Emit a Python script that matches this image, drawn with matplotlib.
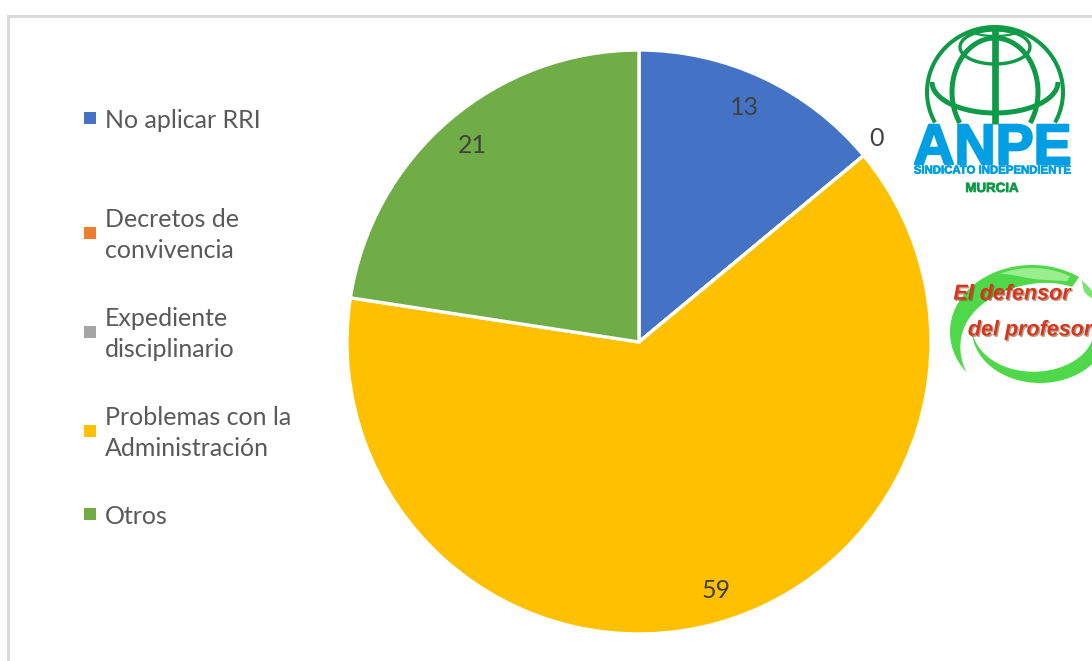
#!/usr/bin/env python3

import matplotlib
matplotlib.use('Agg')
import matplotlib.pyplot as plt
import matplotlib.patheffects as pe
from matplotlib.patches import Polygon, Rectangle
import numpy as np

W, H = 1092, 661

categories = ['No aplicar RRI', 'Decretos de\nconvivencia', 'Expediente\ndisciplinario',
              'Problemas con la\nAdministración', 'Otros']
values = [13, 0, 0, 59, 21]
shown_labels = ['13', '0', '', '59', '21']
colors = ['#4472C4', '#ED7D31', '#A5A5A5', '#FFC000', '#70AD47']
legend_y = [118, 233, 332, 431, 514]

# small label placement corrections, degrees
label_shift = [1.0, 1.2, 0, 1.9, -0.6]

fig = plt.figure(figsize=(W / 100, H / 100), dpi=100)

# overlay in pixel coordinates for frame, legend and logos
bg = fig.add_axes([0, 0, 1, 1])
bg.set_xlim(0, W)
bg.set_ylim(H, 0)
bg.axis('off')

# frame
bg.add_patch(Rectangle((7, 15), W - 7, 3, color='#DADADA', lw=0))
bg.add_patch(Rectangle((7, 15), 3, H - 15, color='#DADADA', lw=0))

# pie
cx, cy, r = 639, 342, 292
ax = fig.add_axes([(cx - r) / W, 1 - (cy + r) / H, 2 * r / W, 2 * r / H])
wedges, _ = ax.pie(values, colors=colors, startangle=90, counterclock=False, radius=1,
                   wedgeprops={'edgecolor': 'white', 'linewidth': 2.4})
ax.set_xlim(-1, 1)
ax.set_ylim(-1, 1)
for w, lab, sh in zip(wedges, shown_labels, label_shift):
    if not lab:
        continue
    ang = np.deg2rad((w.theta1 + w.theta2) / 2 + sh)
    d = 1.075 if w.theta1 == w.theta2 else 0.885
    ax.text(d * np.cos(ang), d * np.sin(ang) - 0.005, lab, ha='center', va='center',
            fontsize=18, color='#404040', family='Lato', clip_on=False)

# legend
for name, col, y in zip(categories, colors, legend_y):
    bg.add_patch(Rectangle((84, y - 6), 12, 12, color=col, lw=0))
    bg.text(105, y + 2, name, ha='left', va='center', fontsize=18, color='#595959',
            family='Lato', linespacing=1.45)


def ell(ex, ey, rx, ry, t0, t1):
    t = np.deg2rad(np.linspace(t0, t1, 120))
    return ex + rx * np.cos(t), ey + ry * np.sin(t)


# ANPE globe
green = '#0E9A47'
bg.plot(*ell(995, 92, 68, 65, 152, 388), color=green, lw=2.9, solid_capstyle='butt')
bg.plot(*ell(995, 92, 43, 54, 145, 395), color=green, lw=3.6, solid_capstyle='butt')
bg.plot(*ell(995, 82, 63, 31, 0, 180), color=green, lw=3.6, solid_capstyle='butt')
bg.plot(*ell(995, 47, 35, 17, 0, 360), color=green, lw=2.4, solid_capstyle='butt')
bg.plot(*ell(995, 30, 24, 6, 0, 180), color=green, lw=1.6, solid_capstyle='butt')
bg.plot([995, 995], [28, 124], color=green, lw=4.8, solid_capstyle='butt')

blue = '#009FE3'
bg.text(992.5, 164, 'ANPE', ha='center', va='baseline', fontsize=41, color=blue,
        family='Liberation Sans', fontweight='bold',
        path_effects=[pe.withStroke(linewidth=1.6, foreground=blue)])
bg.text(992.5, 170.5, 'SINDICATO INDEPENDIENTE', ha='center', va='center', fontsize=8.2,
        color=blue, family='Liberation Sans', fontweight='bold',
        path_effects=[pe.withStroke(linewidth=0.5, foreground=blue)])
bg.text(992, 189, 'MURCIA', ha='center', va='center', fontsize=9.6, color=green,
        family='Liberation Sans', fontweight='bold',
        path_effects=[pe.withStroke(linewidth=0.5, foreground=green)])


def crescent(ex, ey, rx, ry, t0, t1, w0, wmid, color):
    # tapered band along an ellipse
    t = np.linspace(t0, t1, 100)
    u = np.linspace(0, 1, 100)
    wid = wmid * np.sin(np.pi * u) + w0 * u
    x, y = ell(ex, ey, rx, ry, t0, t1)
    xi = ex + (rx - wid) * np.cos(np.deg2rad(t))
    yi = ey + (ry - wid) * np.sin(np.deg2rad(t))
    bg.add_patch(Polygon(np.r_[np.c_[x, y], np.c_[xi, yi][::-1]], color=color, lw=0))


# slogan swoosh
crescent(1032, 332, 82, 67, 143, 305, 12, 15, '#4FD84A')
crescent(1032, 330, 76, 62, 245, 300, 6, 8, '#9BEE8E')
crescent(1040, 330, 68, 53, 178, 15, 14, 4, '#4FD84A')
crescent(1040, 330, 65, 65, 310, 330, 3, 5, '#7BE472')

shadow = [pe.withSimplePatchShadow(offset=(1, -1), shadow_rgbFace='#7A3A20', alpha=0.5)]
bg.text(1012, 294, 'El defensor', ha='center', va='center', fontsize=15.5, color='#D6361B',
        family='Liberation Sans', fontweight='bold', fontstyle='italic', path_effects=shadow)
bg.text(1030, 330, 'del profesor', ha='center', va='center', fontsize=15.5, color='#D6361B',
        family='Liberation Sans', fontweight='bold', fontstyle='italic', path_effects=shadow)

fig.savefig('out.png', dpi=100)
